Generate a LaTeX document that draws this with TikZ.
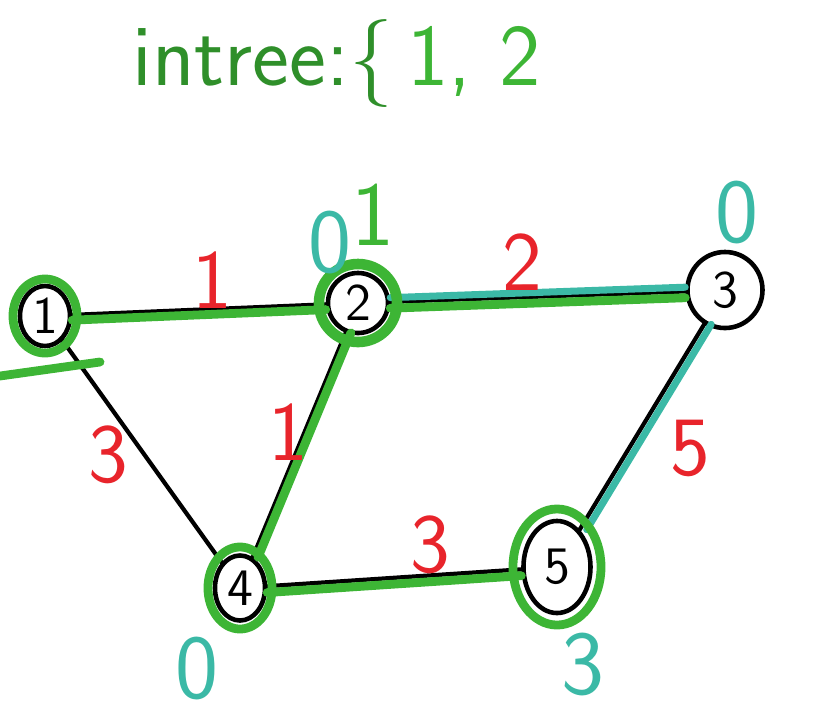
\documentclass[tikz,border=0pt]{standalone}
\usetikzlibrary{shapes.geometric}
\definecolor{grn}{HTML}{3DB535}
\definecolor{dgrn}{HTML}{2F8F2A}
\definecolor{cyn}{HTML}{3BB9A6}
\definecolor{rd}{HTML}{E8242B}
\begin{document}
\begin{tikzpicture}[x=0.01cm,y=-0.01cm,
 vtx/.style={ellipse,draw=black,line width=1.3pt,inner sep=0pt,font=\sffamily\fontsize{15}{15}\selectfont},
 blk/.style={draw=black,line width=1.2pt,line cap=round},
 gline/.style={draw=grn,line width=2.5pt,line cap=round},
 cline/.style={draw=cyn,line width=2pt,line cap=round},
 wt/.style={text=rd,font=\sffamily\fontsize{24}{24}\selectfont},
 dist/.style={text=cyn,font=\sffamily\fontsize{26}{26}\selectfont}]
\useasboundingbox (0,0) rectangle (826,714);

% title
\node[anchor=west,font=\sffamily\fontsize{25}{25}\selectfont] (title) at (120,64)
  {{\color{dgrn}intree:\{}\,{\color{grn}1, 2}};

% vertices
\node[vtx,minimum width=0.5cm,minimum height=0.6cm] (n1) at (45,316) {1};
\node[vtx,minimum width=0.6cm,minimum height=0.6cm] (n2) at (358,303) {2};
\node[vtx,minimum width=0.75cm,minimum height=0.76cm] (n3) at (725,290) {3};
\node[vtx,minimum width=0.5cm,minimum height=0.65cm] (n4) at (240,588) {4};
\node[vtx,minimum width=0.67cm,minimum height=0.92cm] (n5) at (557,567) {5};

% edges
\draw[blk] (n1) -- (n4);
\draw[blk] (n1) -- (n2);
\draw[gline,transform canvas={yshift=-1.5pt}] (n1) -- (n2);
\draw[blk] (n2) -- (n3);
\draw[cline,transform canvas={yshift=1.2pt}] (n2) -- (n3);
\draw[gline,transform canvas={yshift=-1.8pt}] (n2) -- (n3);
\draw[blk] (n2) -- (n4);
\draw[gline,transform canvas={xshift=1.5pt}] (n2) -- (n4);
\draw[blk] (n3) -- (n5);
\draw[cline,transform canvas={xshift=2pt}] (n3) -- (n5);
\draw[blk] (n4) -- (n5);
\draw[gline,transform canvas={yshift=-1.8pt}] (n4) -- (n5);

% green rings
\draw[gline] (n1.center) ellipse [x radius=0.32cm, y radius=0.37cm];
\draw[gline,line width=3pt] (n2.center) circle (0.39cm);
\draw[gline] (n4.center) ellipse [x radius=0.32cm, y radius=0.41cm];
\draw[gline] (n5.center) ellipse [x radius=0.44cm, y radius=0.58cm];
\draw[gline] (0,376) -- (100,362);

% edge weights
\node[wt] (w12) at (212,280) {1};
\node[wt] (w23) at (522,262) {2};
\node[wt] (w14) at (108,455) {3};
\node[wt] (w24) at (288,432) {1};
\node[wt] (w35) at (690,448) {5};
\node[wt] (w45) at (430,545) {3};

% distances
\node[dist] (d2) at (330,242) {0};
\node[dist,text=grn] (d2b) at (373,215) {1};
\node[dist] (d3) at (737,212) {0};
\node[dist] (d4) at (197,668) {0};
\node[dist] (d5) at (583,665) {3};
\end{tikzpicture}
\end{document}
